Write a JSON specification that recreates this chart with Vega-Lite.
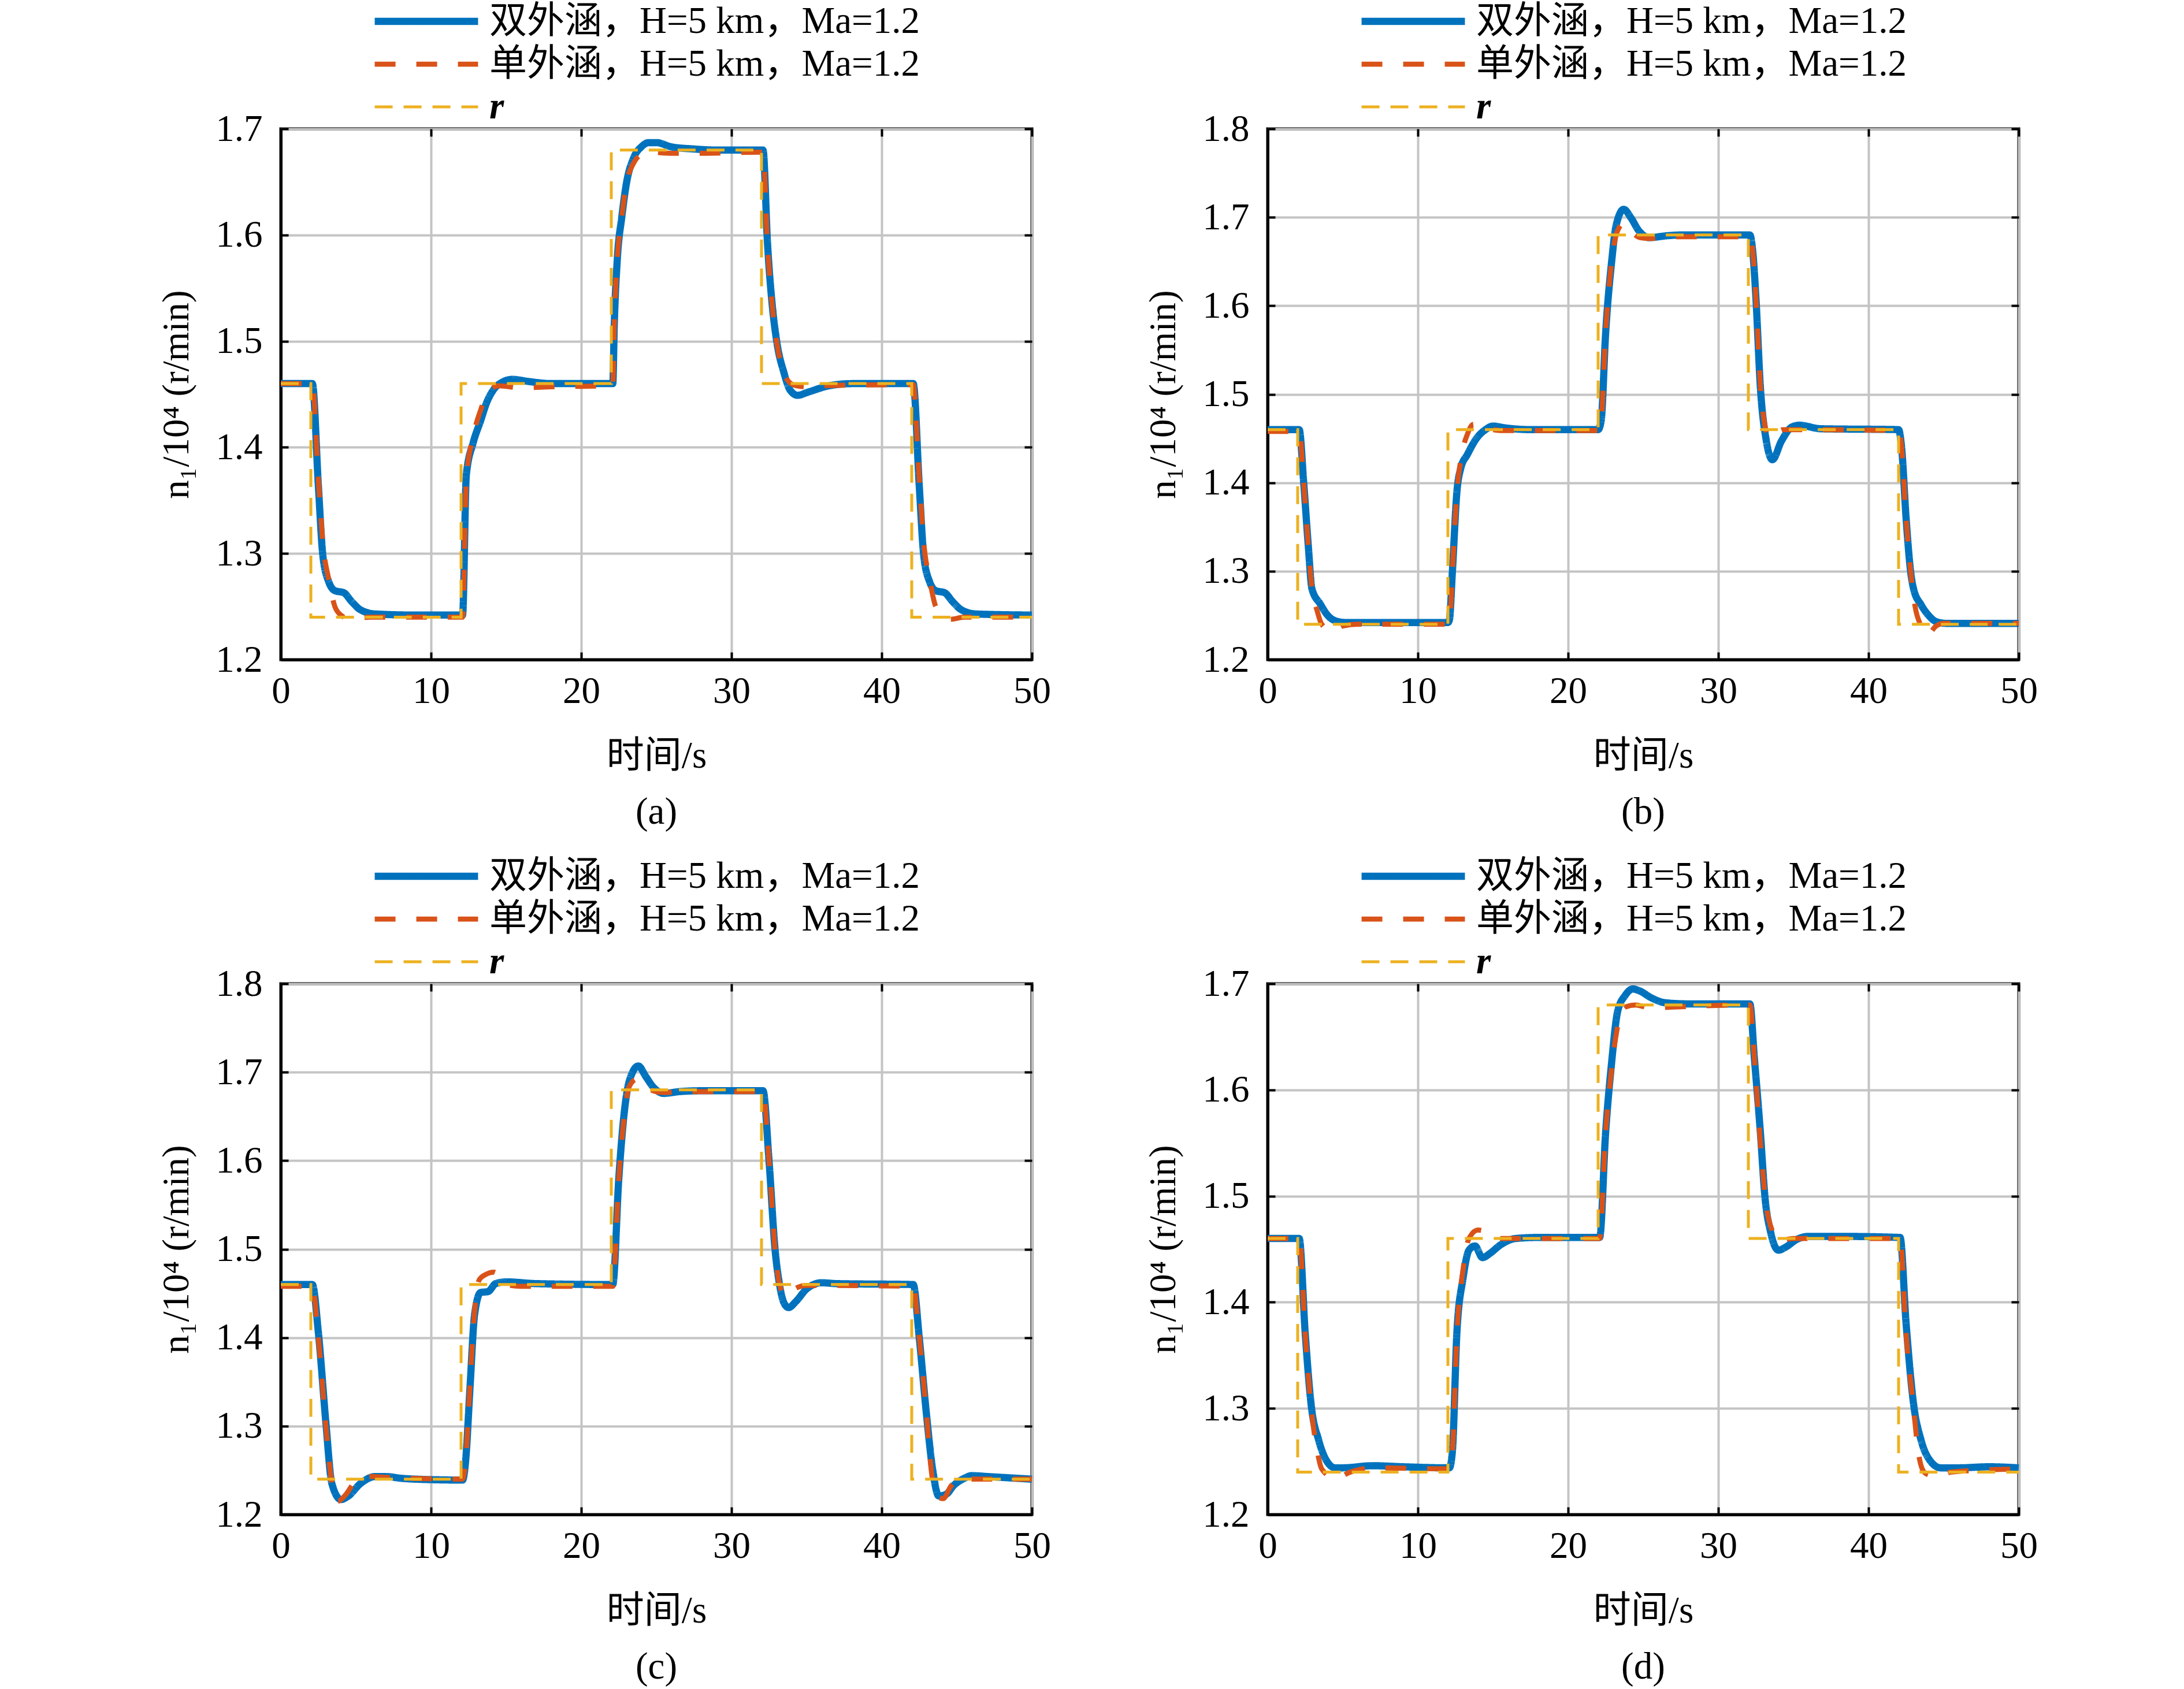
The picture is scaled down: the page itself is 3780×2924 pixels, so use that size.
{
  "$schema": "https://vega.github.io/schema/vega-lite/v6.json",
  "background": "white",
  "padding": {"left": 271, "top": 0, "right": 0, "bottom": 0},
  "config": {
    "view": {"stroke": "black", "strokeWidth": 5},
    "axis": {
      "labelFont": "Liberation Serif",
      "labelFontSize": 65,
      "labelColor": "black",
      "titleFont": "Liberation Serif, Noto Sans CJK SC",
      "titleFontSize": 65,
      "titleFontWeight": "normal",
      "titleColor": "black",
      "domainColor": "black",
      "domainWidth": 5,
      "tickColor": "black",
      "tickWidth": 4,
      "tickSize": -13,
      "gridColor": "#c4c4c4",
      "gridWidth": 4,
      "labelFlush": false,
      "labelOverlap": false
    },
    "axisX": {"labelPadding": 36, "titlePadding": 48},
    "axisY": {"labelPadding": 45, "titlePadding": 33},
    "legend": {
      "orient": "none",
      "legendX": 156,
      "legendY": -220,
      "padding": 0,
      "symbolType": "stroke",
      "symbolSize": 32000,
      "clipHeight": 68,
      "labelFont": "Liberation Serif, Noto Sans CJK SC",
      "labelFontSize": 65,
      "labelColor": "black",
      "labelOffset": 13,
      "labelLimit": 3000,
      "rowPadding": 6
    },
    "title": {"orient": "bottom", "font": "Liberation Serif", "fontSize": 65, "fontWeight": "normal", "color": "black", "offset": 34}
  },
  "datasets": {
    "ref": [
      {"s": "r", "t": 0, "v": 1.46},
      {"s": "r", "t": 2, "v": 1.24},
      {"s": "r", "t": 12, "v": 1.46},
      {"s": "r", "t": 22, "v": 1.68},
      {"s": "r", "t": 32, "v": 1.46},
      {"s": "r", "t": 42, "v": 1.24},
      {"s": "r", "t": 50, "v": 1.24}
    ],
    "curves": [
      {"p": "a", "s": "dual", "t": 0, "v": 1.46},
      {"p": "a", "s": "dual", "t": 2.1, "v": 1.46},
      {"p": "a", "s": "dual", "t": 2.5, "v": 1.364},
      {"p": "a", "s": "dual", "t": 2.8, "v": 1.298},
      {"p": "a", "s": "dual", "t": 3.2, "v": 1.273},
      {"p": "a", "s": "dual", "t": 3.6, "v": 1.265},
      {"p": "a", "s": "dual", "t": 4.2, "v": 1.263},
      {"p": "a", "s": "dual", "t": 4.7, "v": 1.255},
      {"p": "a", "s": "dual", "t": 5.3, "v": 1.247},
      {"p": "a", "s": "dual", "t": 6.3, "v": 1.243},
      {"p": "a", "s": "dual", "t": 9, "v": 1.242},
      {"p": "a", "s": "dual", "t": 12.1, "v": 1.242},
      {"p": "a", "s": "dual", "t": 12.35, "v": 1.374},
      {"p": "a", "s": "dual", "t": 12.8, "v": 1.404},
      {"p": "a", "s": "dual", "t": 13.3, "v": 1.425},
      {"p": "a", "s": "dual", "t": 13.7, "v": 1.442},
      {"p": "a", "s": "dual", "t": 14.2, "v": 1.455},
      {"p": "a", "s": "dual", "t": 14.7, "v": 1.461},
      {"p": "a", "s": "dual", "t": 15.4, "v": 1.464},
      {"p": "a", "s": "dual", "t": 16.5, "v": 1.462},
      {"p": "a", "s": "dual", "t": 18, "v": 1.46},
      {"p": "a", "s": "dual", "t": 22.1, "v": 1.46},
      {"p": "a", "s": "dual", "t": 22.2, "v": 1.516},
      {"p": "a", "s": "dual", "t": 22.4, "v": 1.577},
      {"p": "a", "s": "dual", "t": 22.7, "v": 1.617},
      {"p": "a", "s": "dual", "t": 23.0, "v": 1.648},
      {"p": "a", "s": "dual", "t": 23.5, "v": 1.673},
      {"p": "a", "s": "dual", "t": 24.0, "v": 1.683},
      {"p": "a", "s": "dual", "t": 24.5, "v": 1.687},
      {"p": "a", "s": "dual", "t": 25, "v": 1.687},
      {"p": "a", "s": "dual", "t": 26, "v": 1.683},
      {"p": "a", "s": "dual", "t": 27.5, "v": 1.681},
      {"p": "a", "s": "dual", "t": 29, "v": 1.68},
      {"p": "a", "s": "dual", "t": 32.1, "v": 1.68},
      {"p": "a", "s": "dual", "t": 32.4, "v": 1.592},
      {"p": "a", "s": "dual", "t": 32.7, "v": 1.536},
      {"p": "a", "s": "dual", "t": 33.0, "v": 1.501},
      {"p": "a", "s": "dual", "t": 33.5, "v": 1.47},
      {"p": "a", "s": "dual", "t": 33.9, "v": 1.454},
      {"p": "a", "s": "dual", "t": 34.4, "v": 1.449},
      {"p": "a", "s": "dual", "t": 35.1, "v": 1.452},
      {"p": "a", "s": "dual", "t": 36.5, "v": 1.458},
      {"p": "a", "s": "dual", "t": 38, "v": 1.46},
      {"p": "a", "s": "dual", "t": 42.1, "v": 1.46},
      {"p": "a", "s": "dual", "t": 42.5, "v": 1.364},
      {"p": "a", "s": "dual", "t": 42.8, "v": 1.298},
      {"p": "a", "s": "dual", "t": 43.2, "v": 1.273},
      {"p": "a", "s": "dual", "t": 43.6, "v": 1.265},
      {"p": "a", "s": "dual", "t": 44.2, "v": 1.263},
      {"p": "a", "s": "dual", "t": 44.7, "v": 1.255},
      {"p": "a", "s": "dual", "t": 45.3, "v": 1.247},
      {"p": "a", "s": "dual", "t": 46.3, "v": 1.243},
      {"p": "a", "s": "dual", "t": 50, "v": 1.242},

      {"p": "a", "s": "single", "t": 0, "v": 1.46},
      {"p": "a", "s": "single", "t": 2.1, "v": 1.46},
      {"p": "a", "s": "single", "t": 2.5, "v": 1.37},
      {"p": "a", "s": "single", "t": 2.8, "v": 1.31},
      {"p": "a", "s": "single", "t": 3.2, "v": 1.275},
      {"p": "a", "s": "single", "t": 3.6, "v": 1.25},
      {"p": "a", "s": "single", "t": 4.0, "v": 1.242},
      {"p": "a", "s": "single", "t": 4.5, "v": 1.239},
      {"p": "a", "s": "single", "t": 6, "v": 1.24},
      {"p": "a", "s": "single", "t": 12.1, "v": 1.24},
      {"p": "a", "s": "single", "t": 12.35, "v": 1.37},
      {"p": "a", "s": "single", "t": 12.8, "v": 1.41},
      {"p": "a", "s": "single", "t": 13.3, "v": 1.435},
      {"p": "a", "s": "single", "t": 13.8, "v": 1.452},
      {"p": "a", "s": "single", "t": 14.5, "v": 1.458},
      {"p": "a", "s": "single", "t": 16, "v": 1.456},
      {"p": "a", "s": "single", "t": 18, "v": 1.457},
      {"p": "a", "s": "single", "t": 22.1, "v": 1.458},
      {"p": "a", "s": "single", "t": 22.2, "v": 1.516},
      {"p": "a", "s": "single", "t": 22.4, "v": 1.577},
      {"p": "a", "s": "single", "t": 22.7, "v": 1.617},
      {"p": "a", "s": "single", "t": 23.0, "v": 1.648},
      {"p": "a", "s": "single", "t": 23.5, "v": 1.668},
      {"p": "a", "s": "single", "t": 24.0, "v": 1.676},
      {"p": "a", "s": "single", "t": 24.5, "v": 1.678},
      {"p": "a", "s": "single", "t": 26, "v": 1.677},
      {"p": "a", "s": "single", "t": 28, "v": 1.677},
      {"p": "a", "s": "single", "t": 32.1, "v": 1.678},
      {"p": "a", "s": "single", "t": 32.4, "v": 1.59},
      {"p": "a", "s": "single", "t": 32.7, "v": 1.535},
      {"p": "a", "s": "single", "t": 33.0, "v": 1.5},
      {"p": "a", "s": "single", "t": 33.4, "v": 1.474},
      {"p": "a", "s": "single", "t": 33.8, "v": 1.462},
      {"p": "a", "s": "single", "t": 34.3, "v": 1.458},
      {"p": "a", "s": "single", "t": 35, "v": 1.457},
      {"p": "a", "s": "single", "t": 36, "v": 1.458},
      {"p": "a", "s": "single", "t": 42.1, "v": 1.459},
      {"p": "a", "s": "single", "t": 42.5, "v": 1.37},
      {"p": "a", "s": "single", "t": 42.8, "v": 1.31},
      {"p": "a", "s": "single", "t": 43.2, "v": 1.275},
      {"p": "a", "s": "single", "t": 43.6, "v": 1.25},
      {"p": "a", "s": "single", "t": 44.1, "v": 1.242},
      {"p": "a", "s": "single", "t": 44.6, "v": 1.238},
      {"p": "a", "s": "single", "t": 45.5, "v": 1.24},
      {"p": "a", "s": "single", "t": 50, "v": 1.24},

      {"p": "b", "s": "dual", "t": 0, "v": 1.46},
      {"p": "b", "s": "dual", "t": 2.1, "v": 1.46},
      {"p": "b", "s": "dual", "t": 2.4, "v": 1.40},
      {"p": "b", "s": "dual", "t": 2.7, "v": 1.33},
      {"p": "b", "s": "dual", "t": 2.95, "v": 1.28},
      {"p": "b", "s": "dual", "t": 3.5, "v": 1.263},
      {"p": "b", "s": "dual", "t": 4.0, "v": 1.25},
      {"p": "b", "s": "dual", "t": 4.5, "v": 1.244},
      {"p": "b", "s": "dual", "t": 5.2, "v": 1.242},
      {"p": "b", "s": "dual", "t": 12.0, "v": 1.242},
      {"p": "b", "s": "dual", "t": 12.1, "v": 1.245},
      {"p": "b", "s": "dual", "t": 12.3, "v": 1.30},
      {"p": "b", "s": "dual", "t": 12.6, "v": 1.39},
      {"p": "b", "s": "dual", "t": 12.85, "v": 1.416},
      {"p": "b", "s": "dual", "t": 13.3, "v": 1.432},
      {"p": "b", "s": "dual", "t": 13.9, "v": 1.45},
      {"p": "b", "s": "dual", "t": 14.5, "v": 1.46},
      {"p": "b", "s": "dual", "t": 15.0, "v": 1.464},
      {"p": "b", "s": "dual", "t": 15.8, "v": 1.462},
      {"p": "b", "s": "dual", "t": 17.5, "v": 1.46},
      {"p": "b", "s": "dual", "t": 22.0, "v": 1.46},
      {"p": "b", "s": "dual", "t": 22.2, "v": 1.47},
      {"p": "b", "s": "dual", "t": 22.5, "v": 1.569},
      {"p": "b", "s": "dual", "t": 22.9, "v": 1.65},
      {"p": "b", "s": "dual", "t": 23.2, "v": 1.691},
      {"p": "b", "s": "dual", "t": 23.7, "v": 1.709},
      {"p": "b", "s": "dual", "t": 24.2, "v": 1.699},
      {"p": "b", "s": "dual", "t": 24.7, "v": 1.685},
      {"p": "b", "s": "dual", "t": 25.4, "v": 1.677},
      {"p": "b", "s": "dual", "t": 26.5, "v": 1.679},
      {"p": "b", "s": "dual", "t": 27.5, "v": 1.68},
      {"p": "b", "s": "dual", "t": 32.1, "v": 1.68},
      {"p": "b", "s": "dual", "t": 32.3, "v": 1.66},
      {"p": "b", "s": "dual", "t": 32.5, "v": 1.61},
      {"p": "b", "s": "dual", "t": 32.8, "v": 1.508},
      {"p": "b", "s": "dual", "t": 33.2, "v": 1.447},
      {"p": "b", "s": "dual", "t": 33.6, "v": 1.426},
      {"p": "b", "s": "dual", "t": 34.2, "v": 1.447},
      {"p": "b", "s": "dual", "t": 34.9, "v": 1.463},
      {"p": "b", "s": "dual", "t": 35.4, "v": 1.465},
      {"p": "b", "s": "dual", "t": 36.8, "v": 1.461},
      {"p": "b", "s": "dual", "t": 42.0, "v": 1.46},
      {"p": "b", "s": "dual", "t": 42.2, "v": 1.44},
      {"p": "b", "s": "dual", "t": 42.5, "v": 1.36},
      {"p": "b", "s": "dual", "t": 42.8, "v": 1.30},
      {"p": "b", "s": "dual", "t": 43.0, "v": 1.28},
      {"p": "b", "s": "dual", "t": 43.5, "v": 1.262},
      {"p": "b", "s": "dual", "t": 44.0, "v": 1.25},
      {"p": "b", "s": "dual", "t": 44.5, "v": 1.243},
      {"p": "b", "s": "dual", "t": 45.2, "v": 1.241},
      {"p": "b", "s": "dual", "t": 50, "v": 1.241},

      {"p": "b", "s": "single", "t": 0, "v": 1.458},
      {"p": "b", "s": "single", "t": 2.1, "v": 1.458},
      {"p": "b", "s": "single", "t": 2.4, "v": 1.40},
      {"p": "b", "s": "single", "t": 2.7, "v": 1.33},
      {"p": "b", "s": "single", "t": 2.95, "v": 1.28},
      {"p": "b", "s": "single", "t": 3.3, "v": 1.255},
      {"p": "b", "s": "single", "t": 3.6, "v": 1.24},
      {"p": "b", "s": "single", "t": 4.3, "v": 1.232},
      {"p": "b", "s": "single", "t": 5.0, "v": 1.238},
      {"p": "b", "s": "single", "t": 6, "v": 1.24},
      {"p": "b", "s": "single", "t": 12.1, "v": 1.24},
      {"p": "b", "s": "single", "t": 12.3, "v": 1.30},
      {"p": "b", "s": "single", "t": 12.6, "v": 1.39},
      {"p": "b", "s": "single", "t": 12.9, "v": 1.43},
      {"p": "b", "s": "single", "t": 13.3, "v": 1.455},
      {"p": "b", "s": "single", "t": 13.7, "v": 1.466},
      {"p": "b", "s": "single", "t": 14.5, "v": 1.462},
      {"p": "b", "s": "single", "t": 15.5, "v": 1.459},
      {"p": "b", "s": "single", "t": 22.0, "v": 1.459},
      {"p": "b", "s": "single", "t": 22.2, "v": 1.47},
      {"p": "b", "s": "single", "t": 22.5, "v": 1.57},
      {"p": "b", "s": "single", "t": 22.9, "v": 1.65},
      {"p": "b", "s": "single", "t": 23.3, "v": 1.685},
      {"p": "b", "s": "single", "t": 23.7, "v": 1.693},
      {"p": "b", "s": "single", "t": 24.2, "v": 1.684},
      {"p": "b", "s": "single", "t": 24.8, "v": 1.677},
      {"p": "b", "s": "single", "t": 25.5, "v": 1.676},
      {"p": "b", "s": "single", "t": 27, "v": 1.678},
      {"p": "b", "s": "single", "t": 32.1, "v": 1.678},
      {"p": "b", "s": "single", "t": 32.3, "v": 1.66},
      {"p": "b", "s": "single", "t": 32.5, "v": 1.61},
      {"p": "b", "s": "single", "t": 32.8, "v": 1.51},
      {"p": "b", "s": "single", "t": 33.1, "v": 1.465},
      {"p": "b", "s": "single", "t": 33.4, "v": 1.451},
      {"p": "b", "s": "single", "t": 33.8, "v": 1.455},
      {"p": "b", "s": "single", "t": 34.3, "v": 1.46},
      {"p": "b", "s": "single", "t": 42.0, "v": 1.459},
      {"p": "b", "s": "single", "t": 42.2, "v": 1.44},
      {"p": "b", "s": "single", "t": 42.5, "v": 1.36},
      {"p": "b", "s": "single", "t": 42.8, "v": 1.30},
      {"p": "b", "s": "single", "t": 43.1, "v": 1.26},
      {"p": "b", "s": "single", "t": 43.5, "v": 1.238},
      {"p": "b", "s": "single", "t": 43.9, "v": 1.228},
      {"p": "b", "s": "single", "t": 44.5, "v": 1.238},
      {"p": "b", "s": "single", "t": 45, "v": 1.241},
      {"p": "b", "s": "single", "t": 50, "v": 1.241},

      {"p": "c", "s": "dual", "t": 0, "v": 1.46},
      {"p": "c", "s": "dual", "t": 2.1, "v": 1.46},
      {"p": "c", "s": "dual", "t": 2.5, "v": 1.406},
      {"p": "c", "s": "dual", "t": 3.0, "v": 1.304},
      {"p": "c", "s": "dual", "t": 3.4, "v": 1.235},
      {"p": "c", "s": "dual", "t": 4.0, "v": 1.217},
      {"p": "c", "s": "dual", "t": 4.5, "v": 1.221},
      {"p": "c", "s": "dual", "t": 5.3, "v": 1.235},
      {"p": "c", "s": "dual", "t": 6.3, "v": 1.243},
      {"p": "c", "s": "dual", "t": 7, "v": 1.243},
      {"p": "c", "s": "dual", "t": 8, "v": 1.241},
      {"p": "c", "s": "dual", "t": 9, "v": 1.24},
      {"p": "c", "s": "dual", "t": 12.1, "v": 1.239},
      {"p": "c", "s": "dual", "t": 12.3, "v": 1.26},
      {"p": "c", "s": "dual", "t": 12.6, "v": 1.345},
      {"p": "c", "s": "dual", "t": 12.9, "v": 1.426},
      {"p": "c", "s": "dual", "t": 13.3, "v": 1.451},
      {"p": "c", "s": "dual", "t": 13.8, "v": 1.452},
      {"p": "c", "s": "dual", "t": 14.3, "v": 1.461},
      {"p": "c", "s": "dual", "t": 15, "v": 1.463},
      {"p": "c", "s": "dual", "t": 17, "v": 1.461},
      {"p": "c", "s": "dual", "t": 22.1, "v": 1.46},
      {"p": "c", "s": "dual", "t": 22.5, "v": 1.58},
      {"p": "c", "s": "dual", "t": 22.9, "v": 1.66},
      {"p": "c", "s": "dual", "t": 23.2, "v": 1.69},
      {"p": "c", "s": "dual", "t": 23.8, "v": 1.707},
      {"p": "c", "s": "dual", "t": 24.3, "v": 1.695},
      {"p": "c", "s": "dual", "t": 24.8, "v": 1.683},
      {"p": "c", "s": "dual", "t": 25.5, "v": 1.676},
      {"p": "c", "s": "dual", "t": 26.5, "v": 1.678},
      {"p": "c", "s": "dual", "t": 28, "v": 1.679},
      {"p": "c", "s": "dual", "t": 32.1, "v": 1.679},
      {"p": "c", "s": "dual", "t": 32.5, "v": 1.60},
      {"p": "c", "s": "dual", "t": 32.9, "v": 1.50},
      {"p": "c", "s": "dual", "t": 33.2, "v": 1.46},
      {"p": "c", "s": "dual", "t": 33.5, "v": 1.439},
      {"p": "c", "s": "dual", "t": 33.8, "v": 1.434},
      {"p": "c", "s": "dual", "t": 34.3, "v": 1.441},
      {"p": "c", "s": "dual", "t": 35, "v": 1.455},
      {"p": "c", "s": "dual", "t": 36, "v": 1.462},
      {"p": "c", "s": "dual", "t": 37, "v": 1.461},
      {"p": "c", "s": "dual", "t": 42.1, "v": 1.46},
      {"p": "c", "s": "dual", "t": 42.5, "v": 1.40},
      {"p": "c", "s": "dual", "t": 43, "v": 1.31},
      {"p": "c", "s": "dual", "t": 43.4, "v": 1.25},
      {"p": "c", "s": "dual", "t": 43.8, "v": 1.221},
      {"p": "c", "s": "dual", "t": 44.3, "v": 1.223},
      {"p": "c", "s": "dual", "t": 44.8, "v": 1.233},
      {"p": "c", "s": "dual", "t": 45.5, "v": 1.241},
      {"p": "c", "s": "dual", "t": 46, "v": 1.244},
      {"p": "c", "s": "dual", "t": 47, "v": 1.243},
      {"p": "c", "s": "dual", "t": 50, "v": 1.24},

      {"p": "c", "s": "single", "t": 0, "v": 1.458},
      {"p": "c", "s": "single", "t": 2.1, "v": 1.458},
      {"p": "c", "s": "single", "t": 2.5, "v": 1.40},
      {"p": "c", "s": "single", "t": 3.0, "v": 1.30},
      {"p": "c", "s": "single", "t": 3.4, "v": 1.235},
      {"p": "c", "s": "single", "t": 3.8, "v": 1.215},
      {"p": "c", "s": "single", "t": 4.3, "v": 1.222},
      {"p": "c", "s": "single", "t": 5, "v": 1.238},
      {"p": "c", "s": "single", "t": 6, "v": 1.243},
      {"p": "c", "s": "single", "t": 7, "v": 1.242},
      {"p": "c", "s": "single", "t": 12.1, "v": 1.24},
      {"p": "c", "s": "single", "t": 12.3, "v": 1.26},
      {"p": "c", "s": "single", "t": 12.6, "v": 1.35},
      {"p": "c", "s": "single", "t": 12.9, "v": 1.43},
      {"p": "c", "s": "single", "t": 13.2, "v": 1.465},
      {"p": "c", "s": "single", "t": 13.6, "v": 1.471},
      {"p": "c", "s": "single", "t": 14.2, "v": 1.474},
      {"p": "c", "s": "single", "t": 15, "v": 1.46},
      {"p": "c", "s": "single", "t": 16, "v": 1.458},
      {"p": "c", "s": "single", "t": 22.1, "v": 1.458},
      {"p": "c", "s": "single", "t": 22.5, "v": 1.58},
      {"p": "c", "s": "single", "t": 22.9, "v": 1.655},
      {"p": "c", "s": "single", "t": 23.2, "v": 1.684},
      {"p": "c", "s": "single", "t": 23.7, "v": 1.692},
      {"p": "c", "s": "single", "t": 24.5, "v": 1.681},
      {"p": "c", "s": "single", "t": 25.5, "v": 1.677},
      {"p": "c", "s": "single", "t": 27, "v": 1.678},
      {"p": "c", "s": "single", "t": 32.1, "v": 1.678},
      {"p": "c", "s": "single", "t": 32.5, "v": 1.60},
      {"p": "c", "s": "single", "t": 32.9, "v": 1.50},
      {"p": "c", "s": "single", "t": 33.2, "v": 1.46},
      {"p": "c", "s": "single", "t": 33.6, "v": 1.447},
      {"p": "c", "s": "single", "t": 34.2, "v": 1.455},
      {"p": "c", "s": "single", "t": 35, "v": 1.459},
      {"p": "c", "s": "single", "t": 42.1, "v": 1.458},
      {"p": "c", "s": "single", "t": 42.5, "v": 1.40},
      {"p": "c", "s": "single", "t": 43, "v": 1.31},
      {"p": "c", "s": "single", "t": 43.3, "v": 1.25},
      {"p": "c", "s": "single", "t": 43.7, "v": 1.22},
      {"p": "c", "s": "single", "t": 44.1, "v": 1.218},
      {"p": "c", "s": "single", "t": 44.6, "v": 1.232},
      {"p": "c", "s": "single", "t": 45.3, "v": 1.24},
      {"p": "c", "s": "single", "t": 50, "v": 1.24},

      {"p": "d", "s": "dual", "t": 0, "v": 1.46},
      {"p": "d", "s": "dual", "t": 2.1, "v": 1.46},
      {"p": "d", "s": "dual", "t": 2.5, "v": 1.371},
      {"p": "d", "s": "dual", "t": 2.9, "v": 1.303},
      {"p": "d", "s": "dual", "t": 3.4, "v": 1.27},
      {"p": "d", "s": "dual", "t": 4, "v": 1.249},
      {"p": "d", "s": "dual", "t": 4.5, "v": 1.244},
      {"p": "d", "s": "dual", "t": 5, "v": 1.244},
      {"p": "d", "s": "dual", "t": 7, "v": 1.246},
      {"p": "d", "s": "dual", "t": 9, "v": 1.245},
      {"p": "d", "s": "dual", "t": 12.1, "v": 1.244},
      {"p": "d", "s": "dual", "t": 12.3, "v": 1.26},
      {"p": "d", "s": "dual", "t": 12.6, "v": 1.372},
      {"p": "d", "s": "dual", "t": 13, "v": 1.422},
      {"p": "d", "s": "dual", "t": 13.4, "v": 1.449},
      {"p": "d", "s": "dual", "t": 13.8, "v": 1.453},
      {"p": "d", "s": "dual", "t": 14.3, "v": 1.442},
      {"p": "d", "s": "dual", "t": 14.8, "v": 1.446},
      {"p": "d", "s": "dual", "t": 15.5, "v": 1.454},
      {"p": "d", "s": "dual", "t": 16.5, "v": 1.46},
      {"p": "d", "s": "dual", "t": 18, "v": 1.461},
      {"p": "d", "s": "dual", "t": 22.1, "v": 1.461},
      {"p": "d", "s": "dual", "t": 22.5, "v": 1.56},
      {"p": "d", "s": "dual", "t": 22.9, "v": 1.626},
      {"p": "d", "s": "dual", "t": 23.3, "v": 1.674},
      {"p": "d", "s": "dual", "t": 23.8, "v": 1.689},
      {"p": "d", "s": "dual", "t": 24.3, "v": 1.695},
      {"p": "d", "s": "dual", "t": 24.8, "v": 1.693},
      {"p": "d", "s": "dual", "t": 25.5, "v": 1.687},
      {"p": "d", "s": "dual", "t": 26.5, "v": 1.682},
      {"p": "d", "s": "dual", "t": 28, "v": 1.681},
      {"p": "d", "s": "dual", "t": 32.1, "v": 1.681},
      {"p": "d", "s": "dual", "t": 32.4, "v": 1.63},
      {"p": "d", "s": "dual", "t": 32.8, "v": 1.56},
      {"p": "d", "s": "dual", "t": 33.1, "v": 1.50},
      {"p": "d", "s": "dual", "t": 33.5, "v": 1.465},
      {"p": "d", "s": "dual", "t": 34, "v": 1.449},
      {"p": "d", "s": "dual", "t": 34.5, "v": 1.452},
      {"p": "d", "s": "dual", "t": 35.2, "v": 1.459},
      {"p": "d", "s": "dual", "t": 36, "v": 1.462},
      {"p": "d", "s": "dual", "t": 38, "v": 1.462},
      {"p": "d", "s": "dual", "t": 42.1, "v": 1.461},
      {"p": "d", "s": "dual", "t": 42.5, "v": 1.38},
      {"p": "d", "s": "dual", "t": 43, "v": 1.304},
      {"p": "d", "s": "dual", "t": 43.5, "v": 1.27},
      {"p": "d", "s": "dual", "t": 44.2, "v": 1.249},
      {"p": "d", "s": "dual", "t": 44.8, "v": 1.244},
      {"p": "d", "s": "dual", "t": 46, "v": 1.244},
      {"p": "d", "s": "dual", "t": 48, "v": 1.245},
      {"p": "d", "s": "dual", "t": 50, "v": 1.244},

      {"p": "d", "s": "single", "t": 0, "v": 1.46},
      {"p": "d", "s": "single", "t": 2.1, "v": 1.46},
      {"p": "d", "s": "single", "t": 2.5, "v": 1.37},
      {"p": "d", "s": "single", "t": 2.9, "v": 1.30},
      {"p": "d", "s": "single", "t": 3.3, "v": 1.26},
      {"p": "d", "s": "single", "t": 3.6, "v": 1.243},
      {"p": "d", "s": "single", "t": 4.5, "v": 1.234},
      {"p": "d", "s": "single", "t": 5.5, "v": 1.24},
      {"p": "d", "s": "single", "t": 7, "v": 1.244},
      {"p": "d", "s": "single", "t": 12.1, "v": 1.243},
      {"p": "d", "s": "single", "t": 12.3, "v": 1.26},
      {"p": "d", "s": "single", "t": 12.6, "v": 1.37},
      {"p": "d", "s": "single", "t": 13, "v": 1.43},
      {"p": "d", "s": "single", "t": 13.4, "v": 1.46},
      {"p": "d", "s": "single", "t": 14, "v": 1.468},
      {"p": "d", "s": "single", "t": 14.8, "v": 1.465},
      {"p": "d", "s": "single", "t": 15.5, "v": 1.46},
      {"p": "d", "s": "single", "t": 17, "v": 1.46},
      {"p": "d", "s": "single", "t": 22.1, "v": 1.46},
      {"p": "d", "s": "single", "t": 22.5, "v": 1.56},
      {"p": "d", "s": "single", "t": 22.9, "v": 1.62},
      {"p": "d", "s": "single", "t": 23.3, "v": 1.66},
      {"p": "d", "s": "single", "t": 23.8, "v": 1.678},
      {"p": "d", "s": "single", "t": 24.5, "v": 1.68},
      {"p": "d", "s": "single", "t": 25.5, "v": 1.677},
      {"p": "d", "s": "single", "t": 27, "v": 1.678},
      {"p": "d", "s": "single", "t": 32.1, "v": 1.68},
      {"p": "d", "s": "single", "t": 32.4, "v": 1.63},
      {"p": "d", "s": "single", "t": 32.8, "v": 1.55},
      {"p": "d", "s": "single", "t": 33.2, "v": 1.49},
      {"p": "d", "s": "single", "t": 33.6, "v": 1.467},
      {"p": "d", "s": "single", "t": 34, "v": 1.458},
      {"p": "d", "s": "single", "t": 35, "v": 1.46},
      {"p": "d", "s": "single", "t": 42.1, "v": 1.46},
      {"p": "d", "s": "single", "t": 42.5, "v": 1.37},
      {"p": "d", "s": "single", "t": 43, "v": 1.30},
      {"p": "d", "s": "single", "t": 43.3, "v": 1.26},
      {"p": "d", "s": "single", "t": 43.7, "v": 1.24},
      {"p": "d", "s": "single", "t": 44.1, "v": 1.237},
      {"p": "d", "s": "single", "t": 44.6, "v": 1.236},
      {"p": "d", "s": "single", "t": 45.5, "v": 1.24},
      {"p": "d", "s": "single", "t": 50, "v": 1.243}
    ]
  },
  "columns": 2,
  "spacing": {"column": 158, "row": 38},
  "resolve": {
    "scale": {"x": "independent", "y": "independent", "color": "independent", "strokeDash": "independent", "strokeWidth": "independent"}
  },
  "concat": [
    {
      "width": 1300,
      "height": 919,
      "title": {"text": "(a)"},
      "encoding": {
        "color": {"field": "s", "type": "nominal", "scale": {"domain": ["dual", "single", "r"], "range": ["#0072BD", "#D95319", "#EDB120"]}, "legend": {"title": null, "labelExpr": "datum.value == 'dual' ? '双外涵，H=5 km，Ma=1.2' : datum.value == 'single' ? '单外涵，H=5 km，Ma=1.2' : 'r'", "labelFontStyle": {"expr": "datum.value == 'r' ? 'italic' : 'normal'"}, "labelFontWeight": {"expr": "datum.value == 'r' ? 'bold' : 'normal'"}}},
        "strokeDash": {"field": "s", "type": "nominal", "scale": {"domain": ["dual", "single", "r"], "range": [[1, 0], [36, 36], [31, 19]]}, "legend": {"title": null}},
        "strokeWidth": {"field": "s", "type": "ordinal", "scale": {"domain": ["dual", "single", "r"], "range": [12.5, 5]}, "legend": {"title": null}}
      },
      "layer": [
        {
          "data": {"name": "curves"},
          "transform": [{"filter": "datum.p == 'a' && datum.s == 'dual'"}],
          "mark": {"type": "line", "interpolate": "monotone"},
          "encoding": {
            "x": {"field": "t", "type": "quantitative", "scale": {"domain": [0, 50], "nice": false}, "axis": {"values": [0, 10, 20, 30, 40, 50], "title": "时间/s"}},
            "y": {"field": "v", "type": "quantitative", "scale": {"domain": [1.2, 1.7], "nice": false, "zero": false}, "axis": {"values": [1.2, 1.3, 1.4, 1.5, 1.6, 1.7], "format": ".1f", "title": "n₁/10⁴ (r/min)"}}
          }
        },
        {
          "data": {"name": "curves"},
          "transform": [{"filter": "datum.p == 'a' && datum.s == 'single'"}],
          "mark": {"type": "line", "interpolate": "monotone"},
          "encoding": {
            "x": {"field": "t", "type": "quantitative", "axis": null},
            "y": {"field": "v", "type": "quantitative", "axis": null}
          }
        },
        {
          "data": {"name": "ref"},
          "mark": {"type": "line", "interpolate": "step-after"},
          "encoding": {
            "x": {"field": "t", "type": "quantitative", "axis": null},
            "y": {"field": "v", "type": "quantitative", "axis": null}
          }
        },
        {
          "data": {"name": "ref"},
          "mark": {"type": "line", "opacity": 0},
          "encoding": {
            "x": {"field": "t", "type": "quantitative", "axis": {"orient": "top", "values": [0, 10, 20, 30, 40, 50], "labels": false, "title": null, "grid": false, "domain": false}},
            "y": {"field": "v", "type": "quantitative", "axis": {"orient": "right", "values": [1.2, 1.3, 1.4, 1.5, 1.6, 1.7], "labels": false, "title": null, "grid": false, "domain": false}}
          }
        }
      ],
      "resolve": {"axis": {"x": "independent", "y": "independent"}}
    },
    {
      "width": 1300,
      "height": 919,
      "title": {"text": "(b)"},
      "encoding": {
        "color": {"field": "s", "type": "nominal", "scale": {"domain": ["dual", "single", "r"], "range": ["#0072BD", "#D95319", "#EDB120"]}, "legend": {"title": null, "labelExpr": "datum.value == 'dual' ? '双外涵，H=5 km，Ma=1.2' : datum.value == 'single' ? '单外涵，H=5 km，Ma=1.2' : 'r'", "labelFontStyle": {"expr": "datum.value == 'r' ? 'italic' : 'normal'"}, "labelFontWeight": {"expr": "datum.value == 'r' ? 'bold' : 'normal'"}}},
        "strokeDash": {"field": "s", "type": "nominal", "scale": {"domain": ["dual", "single", "r"], "range": [[1, 0], [36, 36], [31, 19]]}, "legend": {"title": null}},
        "strokeWidth": {"field": "s", "type": "ordinal", "scale": {"domain": ["dual", "single", "r"], "range": [12.5, 5]}, "legend": {"title": null}}
      },
      "layer": [
        {
          "data": {"name": "curves"},
          "transform": [{"filter": "datum.p == 'b' && datum.s == 'dual'"}],
          "mark": {"type": "line", "interpolate": "monotone"},
          "encoding": {
            "x": {"field": "t", "type": "quantitative", "scale": {"domain": [0, 50], "nice": false}, "axis": {"values": [0, 10, 20, 30, 40, 50], "title": "时间/s"}},
            "y": {"field": "v", "type": "quantitative", "scale": {"domain": [1.2, 1.8], "nice": false, "zero": false}, "axis": {"values": [1.2, 1.3, 1.4, 1.5, 1.6, 1.7, 1.8], "format": ".1f", "title": "n₁/10⁴ (r/min)"}}
          }
        },
        {
          "data": {"name": "curves"},
          "transform": [{"filter": "datum.p == 'b' && datum.s == 'single'"}],
          "mark": {"type": "line", "interpolate": "monotone"},
          "encoding": {
            "x": {"field": "t", "type": "quantitative", "axis": null},
            "y": {"field": "v", "type": "quantitative", "axis": null}
          }
        },
        {
          "data": {"name": "ref"},
          "mark": {"type": "line", "interpolate": "step-after"},
          "encoding": {
            "x": {"field": "t", "type": "quantitative", "axis": null},
            "y": {"field": "v", "type": "quantitative", "axis": null}
          }
        },
        {
          "data": {"name": "ref"},
          "mark": {"type": "line", "opacity": 0},
          "encoding": {
            "x": {"field": "t", "type": "quantitative", "axis": {"orient": "top", "values": [0, 10, 20, 30, 40, 50], "labels": false, "title": null, "grid": false, "domain": false}},
            "y": {"field": "v", "type": "quantitative", "axis": {"orient": "right", "values": [1.2, 1.3, 1.4, 1.5, 1.6, 1.7, 1.8], "labels": false, "title": null, "grid": false, "domain": false}}
          }
        }
      ],
      "resolve": {"axis": {"x": "independent", "y": "independent"}}
    },
    {
      "width": 1300,
      "height": 919,
      "title": {"text": "(c)"},
      "encoding": {
        "color": {"field": "s", "type": "nominal", "scale": {"domain": ["dual", "single", "r"], "range": ["#0072BD", "#D95319", "#EDB120"]}, "legend": {"title": null, "labelExpr": "datum.value == 'dual' ? '双外涵，H=5 km，Ma=1.2' : datum.value == 'single' ? '单外涵，H=5 km，Ma=1.2' : 'r'", "labelFontStyle": {"expr": "datum.value == 'r' ? 'italic' : 'normal'"}, "labelFontWeight": {"expr": "datum.value == 'r' ? 'bold' : 'normal'"}}},
        "strokeDash": {"field": "s", "type": "nominal", "scale": {"domain": ["dual", "single", "r"], "range": [[1, 0], [36, 36], [31, 19]]}, "legend": {"title": null}},
        "strokeWidth": {"field": "s", "type": "ordinal", "scale": {"domain": ["dual", "single", "r"], "range": [12.5, 5]}, "legend": {"title": null}}
      },
      "layer": [
        {
          "data": {"name": "curves"},
          "transform": [{"filter": "datum.p == 'c' && datum.s == 'dual'"}],
          "mark": {"type": "line", "interpolate": "monotone"},
          "encoding": {
            "x": {"field": "t", "type": "quantitative", "scale": {"domain": [0, 50], "nice": false}, "axis": {"values": [0, 10, 20, 30, 40, 50], "title": "时间/s"}},
            "y": {"field": "v", "type": "quantitative", "scale": {"domain": [1.2, 1.8], "nice": false, "zero": false}, "axis": {"values": [1.2, 1.3, 1.4, 1.5, 1.6, 1.7, 1.8], "format": ".1f", "title": "n₁/10⁴ (r/min)"}}
          }
        },
        {
          "data": {"name": "curves"},
          "transform": [{"filter": "datum.p == 'c' && datum.s == 'single'"}],
          "mark": {"type": "line", "interpolate": "monotone"},
          "encoding": {
            "x": {"field": "t", "type": "quantitative", "axis": null},
            "y": {"field": "v", "type": "quantitative", "axis": null}
          }
        },
        {
          "data": {"name": "ref"},
          "mark": {"type": "line", "interpolate": "step-after"},
          "encoding": {
            "x": {"field": "t", "type": "quantitative", "axis": null},
            "y": {"field": "v", "type": "quantitative", "axis": null}
          }
        },
        {
          "data": {"name": "ref"},
          "mark": {"type": "line", "opacity": 0},
          "encoding": {
            "x": {"field": "t", "type": "quantitative", "axis": {"orient": "top", "values": [0, 10, 20, 30, 40, 50], "labels": false, "title": null, "grid": false, "domain": false}},
            "y": {"field": "v", "type": "quantitative", "axis": {"orient": "right", "values": [1.2, 1.3, 1.4, 1.5, 1.6, 1.7, 1.8], "labels": false, "title": null, "grid": false, "domain": false}}
          }
        }
      ],
      "resolve": {"axis": {"x": "independent", "y": "independent"}}
    },
    {
      "width": 1300,
      "height": 919,
      "title": {"text": "(d)"},
      "encoding": {
        "color": {"field": "s", "type": "nominal", "scale": {"domain": ["dual", "single", "r"], "range": ["#0072BD", "#D95319", "#EDB120"]}, "legend": {"title": null, "labelExpr": "datum.value == 'dual' ? '双外涵，H=5 km，Ma=1.2' : datum.value == 'single' ? '单外涵，H=5 km，Ma=1.2' : 'r'", "labelFontStyle": {"expr": "datum.value == 'r' ? 'italic' : 'normal'"}, "labelFontWeight": {"expr": "datum.value == 'r' ? 'bold' : 'normal'"}}},
        "strokeDash": {"field": "s", "type": "nominal", "scale": {"domain": ["dual", "single", "r"], "range": [[1, 0], [36, 36], [31, 19]]}, "legend": {"title": null}},
        "strokeWidth": {"field": "s", "type": "ordinal", "scale": {"domain": ["dual", "single", "r"], "range": [12.5, 5]}, "legend": {"title": null}}
      },
      "layer": [
        {
          "data": {"name": "curves"},
          "transform": [{"filter": "datum.p == 'd' && datum.s == 'dual'"}],
          "mark": {"type": "line", "interpolate": "monotone"},
          "encoding": {
            "x": {"field": "t", "type": "quantitative", "scale": {"domain": [0, 50], "nice": false}, "axis": {"values": [0, 10, 20, 30, 40, 50], "title": "时间/s"}},
            "y": {"field": "v", "type": "quantitative", "scale": {"domain": [1.2, 1.7], "nice": false, "zero": false}, "axis": {"values": [1.2, 1.3, 1.4, 1.5, 1.6, 1.7], "format": ".1f", "title": "n₁/10⁴ (r/min)"}}
          }
        },
        {
          "data": {"name": "curves"},
          "transform": [{"filter": "datum.p == 'd' && datum.s == 'single'"}],
          "mark": {"type": "line", "interpolate": "monotone"},
          "encoding": {
            "x": {"field": "t", "type": "quantitative", "axis": null},
            "y": {"field": "v", "type": "quantitative", "axis": null}
          }
        },
        {
          "data": {"name": "ref"},
          "mark": {"type": "line", "interpolate": "step-after"},
          "encoding": {
            "x": {"field": "t", "type": "quantitative", "axis": null},
            "y": {"field": "v", "type": "quantitative", "axis": null}
          }
        },
        {
          "data": {"name": "ref"},
          "mark": {"type": "line", "opacity": 0},
          "encoding": {
            "x": {"field": "t", "type": "quantitative", "axis": {"orient": "top", "values": [0, 10, 20, 30, 40, 50], "labels": false, "title": null, "grid": false, "domain": false}},
            "y": {"field": "v", "type": "quantitative", "axis": {"orient": "right", "values": [1.2, 1.3, 1.4, 1.5, 1.6, 1.7], "labels": false, "title": null, "grid": false, "domain": false}}
          }
        }
      ],
      "resolve": {"axis": {"x": "independent", "y": "independent"}}
    }
  ]
}
